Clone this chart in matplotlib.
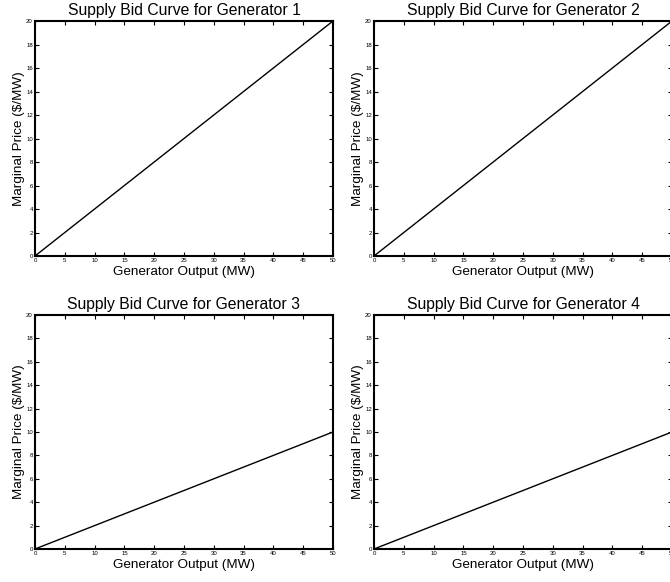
import numpy as np
import matplotlib
matplotlib.use('Agg')
import matplotlib.pyplot as plt

plt.rcParams['font.family'] = ['Liberation Sans', 'DejaVu Sans']

generators = [1, 2, 3, 4]
output_mw = [[0, 50], [0, 50], [0, 50], [0, 50]]
price = [[0, 20], [0, 20], [0, 10], [0, 10]]
xticks = np.arange(0, 51, 5)
yticks = np.arange(0, 21, 2)

fig = plt.figure(figsize=(6.7, 5.82), dpi=100)

# axes boxes in figure fractions (left, bottom, width, height)
boxes = [
    (0.0522, 0.5601, 0.4448, 0.4038),
    (0.5582, 0.5601, 0.4448, 0.4038),
    (0.0522, 0.0567, 0.4448, 0.4021),
    (0.5582, 0.0567, 0.4448, 0.4021),
]

for i in range(4):
    ax = fig.add_axes(boxes[i])
    ax.plot(output_mw[i], price[i], color='black', lw=1.0)
    ax.set_xlim(0, 50)
    ax.set_ylim(0, 20)
    ax.set_xticks(xticks)
    ax.set_yticks(yticks)
    ax.tick_params(direction='in', top=True, right=True, length=3,
                   width=0.8, labelsize=4.3, pad=1.5, colors='black')
    for s in ax.spines.values():
        s.set_linewidth(1.5)
    ax.set_title('Supply Bid Curve for Generator %d' % generators[i],
                 fontsize=11.3, pad=4)
    ax.set_xlabel('Generator Output (MW)', fontsize=9.7, labelpad=1.8)
    ax.set_ylabel('Marginal Price (\\$/MW)', fontsize=9.7, labelpad=1)

fig.savefig('out.png', dpi=100)
